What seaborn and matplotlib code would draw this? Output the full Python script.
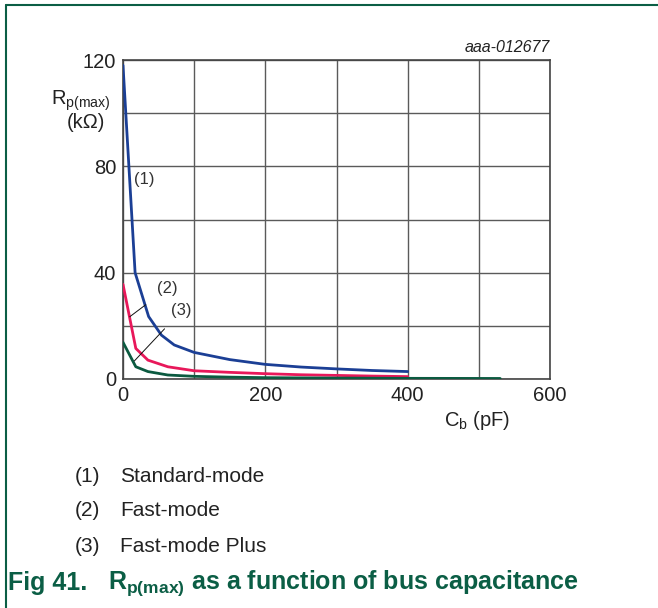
import matplotlib
matplotlib.use("Agg")
import matplotlib.pyplot as plt
import seaborn as sns
import pandas as pd

# Maximum pull-up resistance versus bus capacitance for the three bus modes
cb_std = [0, 17, 36, 54, 72, 100, 150, 200, 250, 300, 350, 400]
rp_std = [118, 40, 23.5, 16.5, 12.8, 10.0, 7.3, 5.5, 4.5, 3.8, 3.2, 2.8]

cb_fast = [0, 18, 35, 63, 100, 150, 200, 250, 300, 350, 400]
rp_fast = [35.6, 11.5, 7.1, 4.6, 3.1, 2.5, 2.0, 1.6, 1.35, 1.1, 0.9]

cb_fmp = [0, 18, 35, 63, 100, 150, 200, 300, 400, 530]
rp_fmp = [13.8, 4.6, 2.8, 1.5, 1.0, 0.7, 0.5, 0.35, 0.25, 0.2]

modes = ["Standard-mode", "Fast-mode", "Fast-mode Plus"]
mode_tags = ["(1)", "(2)", "(3)"]
x_ticks = [0, 200, 400, 600]
y_ticks = [0, 40, 80, 120]

colors = {"Standard-mode": "#1b3f95", "Fast-mode": "#e8185a", "Fast-mode Plus": "#0b5a40"}
accent = "#0b5e45"
ink = "#222222"

df = pd.concat([
    pd.DataFrame({"Cb": cb_std, "Rp": rp_std, "mode": modes[0]}),
    pd.DataFrame({"Cb": cb_fast, "Rp": rp_fast, "mode": modes[1]}),
    pd.DataFrame({"Cb": cb_fmp, "Rp": rp_fmp, "mode": modes[2]}),
], ignore_index=True)

sns.set_style("white")
plt.rcParams["font.family"] = ["Liberation Sans", "DejaVu Sans"]
plt.rcParams["mathtext.fontset"] = "custom"
plt.rcParams["mathtext.rm"] = "Liberation Sans"
plt.rcParams["mathtext.bf"] = "Liberation Sans:bold"

W, H = 658, 608
fig = plt.figure(figsize=(W / 100, H / 100), dpi=100)
ax = fig.add_axes([123 / W, 1 - 379 / H, (550 - 123) / W, (379 - 60) / H])

sns.lineplot(data=df, x="Cb", y="Rp", hue="mode", palette=colors,
             linewidth=2.0, sort=False, legend=False, ax=ax, zorder=3)

ax.set_xlim(0, 600)
ax.set_ylim(0, 120)
ax.set_xticks(x_ticks)
ax.set_yticks(y_ticks)
ax.set_xticks(range(0, 601, 100), minor=True)
ax.set_yticks(range(0, 121, 20), minor=True)
ax.grid(which="both", color="#5a5a5a", linewidth=1.0)
ax.tick_params(which="both", length=0, labelsize=14.5, colors=ink, pad=5)
for s in ax.spines.values():
    s.set_color("#444444")
    s.set_linewidth(1.2)
ax.set_xlabel("")
ax.set_ylabel("")

# curve tags with leader lines
ax.text(30, 75, mode_tags[0], fontsize=12, color="#333333", ha="center", va="center")
ax.annotate(mode_tags[1], xy=(9.4, 23.4), xytext=(62, 34),
            fontsize=12, color="#333333", ha="center", va="center",
            arrowprops=dict(arrowstyle="-", color="#111111", lw=0.7,
                            shrinkA=7, shrinkB=0))
ax.annotate(mode_tags[2], xy=(16, 6.8), xytext=(82, 25.6),
            fontsize=12, color="#333333", ha="center", va="center",
            arrowprops=dict(arrowstyle="-", color="#111111", lw=0.7,
                            shrinkA=7, shrinkB=0))

# axis titles
fig.text(81 / W, 1 - 101 / H, r"R$_{\mathregular{p(max)}}$", fontsize=14.5,
         color=ink, ha="center", va="center")
fig.text(86 / W, 1 - 123 / H, "(kΩ)", fontsize=14.5, color=ink,
         ha="center", va="center")
fig.text(510 / W, 1 - 420 / H, r"C$_{\mathregular{b}}$ (pF)", fontsize=14.5,
         color=ink, ha="right", va="center")
fig.text(550 / W, 1 - 47 / H, "aaa-012677", fontsize=11.5, style="italic",
         color=ink, ha="right", va="center")

# mode list below the chart
for i, (tag, name) in enumerate(zip(mode_tags, modes)):
    y = 1 - (476 + 35 * i) / H
    fig.text(75 / W, y, tag, fontsize=15, color=ink, va="center")
    fig.text(120 / W, y, name, fontsize=15, color=ink, va="center")

# caption
fig.text(8 / W, 1 - 583 / H, "Fig 41.", fontsize=18, fontweight="bold",
         color=accent, va="center")
fig.text(108 / W, 1 - 583 / H,
         r"R$_{\mathbf{p(max)}}$ as a function of bus capacitance",
         fontsize=18, fontweight="bold", color=accent, va="center")

# frame lines along the top and left edges
fig.add_artist(plt.Line2D([6 / W, 1], [1 - 5 / H, 1 - 5 / H], color=accent, lw=1.5))
fig.add_artist(plt.Line2D([6 / W, 6 / W], [0, 1 - 5 / H], color=accent, lw=1.5))

fig.savefig("out.png", dpi=100)
